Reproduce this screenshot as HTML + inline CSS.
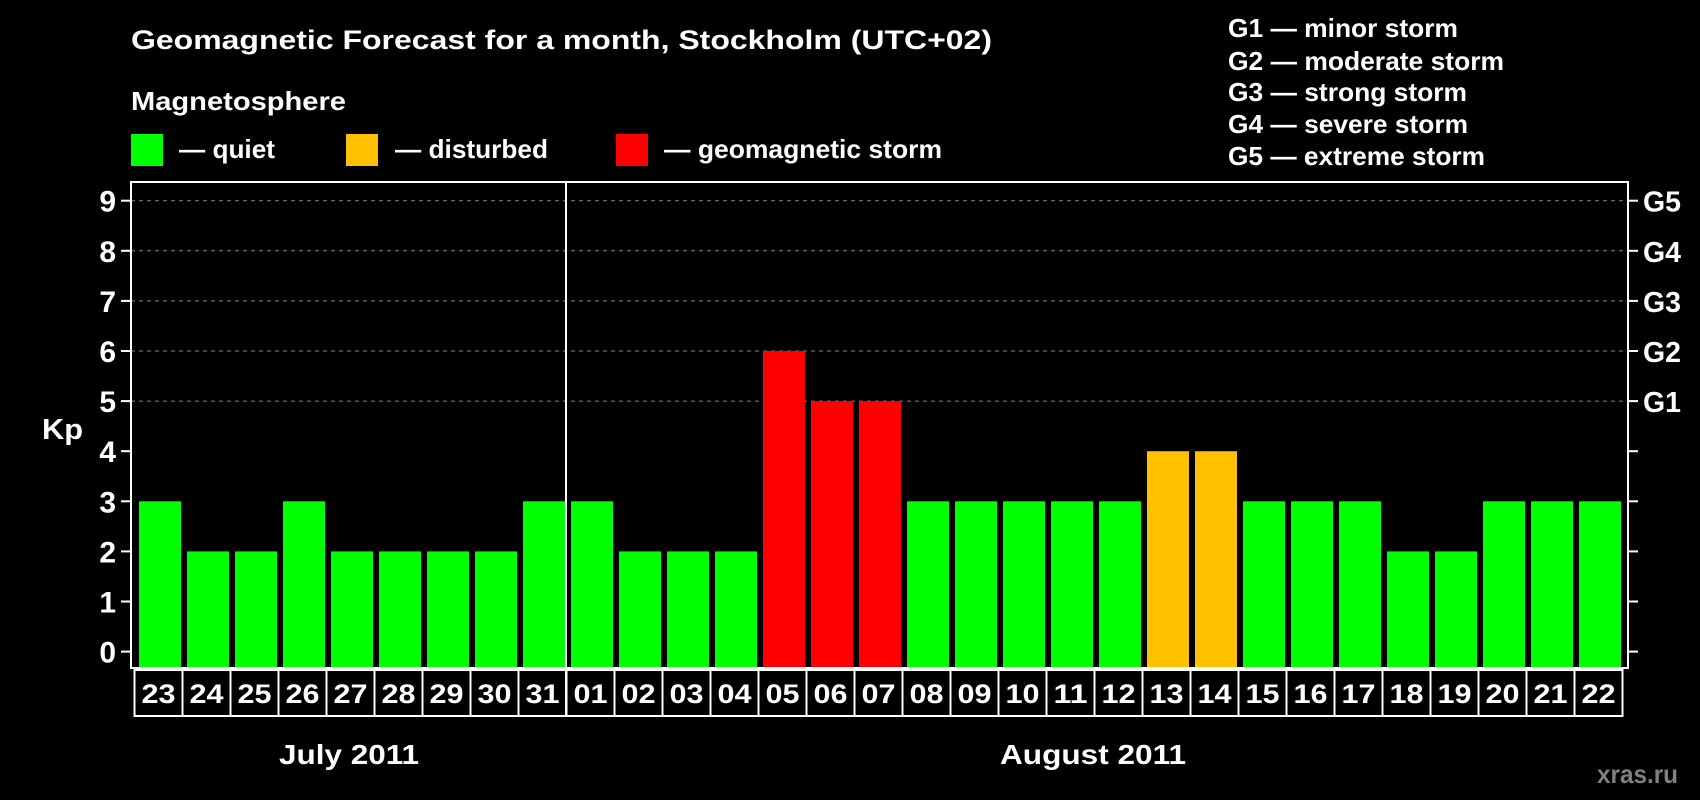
<!DOCTYPE html>
<html><head><meta charset="utf-8"><style>
html,body{margin:0;padding:0;background:#000;}
svg{display:block;}
text{font-family:"Liberation Sans",Arial,sans-serif;font-weight:bold;fill:#fff;}
</style></head><body>
<svg width="1700" height="800" viewBox="0 0 1700 800" xmlns="http://www.w3.org/2000/svg">
<rect width="1700" height="800" fill="#000"/>
<text x="131" y="49" font-size="27" textLength="861" lengthAdjust="spacingAndGlyphs">Geomagnetic Forecast for a month, Stockholm (UTC+02)</text>
<text x="131" y="110" font-size="26" textLength="215" lengthAdjust="spacingAndGlyphs">Magnetosphere</text>
<rect x="131" y="134" width="32" height="32" fill="#00ff00"/>
<text x="179" y="158" font-size="26" textLength="96" lengthAdjust="spacingAndGlyphs">— quiet</text>
<rect x="346" y="134" width="32" height="32" fill="#ffc000"/>
<text x="395" y="158" font-size="26" textLength="153" lengthAdjust="spacingAndGlyphs">— disturbed</text>
<rect x="616" y="134" width="32" height="32" fill="#ff0000"/>
<text x="664" y="158" font-size="26" textLength="278" lengthAdjust="spacingAndGlyphs">— geomagnetic storm</text>
<g font-size="26">
<text x="1228" y="37" textLength="230" lengthAdjust="spacingAndGlyphs">G1 — minor storm</text>
<text x="1228" y="70" textLength="276" lengthAdjust="spacingAndGlyphs">G2 — moderate storm</text>
<text x="1228" y="101" textLength="239" lengthAdjust="spacingAndGlyphs">G3 — strong storm</text>
<text x="1228" y="133" textLength="240" lengthAdjust="spacingAndGlyphs">G4 — severe storm</text>
<text x="1228" y="165" textLength="257" lengthAdjust="spacingAndGlyphs">G5 — extreme storm</text>
</g>
<g id="grid"></g>
<g id="bars"></g>
<rect x="131" y="182" width="1497" height="486" fill="none" stroke="#fff" stroke-width="2"/>
<line x1="566" y1="182" x2="566" y2="716" stroke="#fff" stroke-width="2"/>
<g id="ax"></g>
<text x="42" y="439" font-size="29" textLength="41" lengthAdjust="spacingAndGlyphs">Kp</text>
<text x="279" y="764" font-size="28" textLength="140" lengthAdjust="spacingAndGlyphs">July 2011</text>
<text x="1000" y="764" font-size="28" textLength="186" lengthAdjust="spacingAndGlyphs">August 2011</text>
<text x="1597" y="783" font-size="26" textLength="81" lengthAdjust="spacingAndGlyphs" style="fill:#808080">xras.ru</text>
</svg>
<script>
const NS="http://www.w3.org/2000/svg";
function el(p,t,a,txt){const e=document.createElementNS(NS,t);for(const k in a)e.setAttribute(k,a[k]);if(txt!==undefined)e.textContent=txt;document.getElementById(p).appendChild(e);}
const y0=651.6,u=50.1;
for(let k=0;k<=9;k++){const y=y0-k*u;
 if(k>=5)el("grid","line",{x1:131,x2:1628,y1:y,y2:y,stroke:"#888","stroke-dasharray":"4,4","stroke-width":1});
 el("ax","line",{x1:121,x2:131,y1:y,y2:y,stroke:"#fff","stroke-width":2});
 el("ax","line",{x1:1628,x2:1638,y1:y,y2:y,stroke:"#fff","stroke-width":2});
 el("ax","text",{x:116,y:y+11,"font-size":30,"text-anchor":"end"},k);
 if(k>=5)el("ax","text",{x:1643,y:y+11,"font-size":29,textLength:38,lengthAdjust:"spacingAndGlyphs"},"G"+(k-4));
}
const v=[3,2,2,3,2,2,2,2,3,3,2,2,2,6,5,5,3,3,3,3,3,4,4,3,3,3,2,2,3,3,3];
const d=["23","24","25","26","27","28","29","30","31","01","02","03","04","05","06","07","08","09","10","11","12","13","14","15","16","17","18","19","20","21","22"];
for(let i=0;i<31;i++){
 const x=139+i*48;
 let c="#00ff00"; if(i>=13&&i<=15)c="#ff0000"; if(i==21||i==22)c="#ffc000";
 el("bars","rect",{x:x,y:y0-v[i]*u,width:42,height:v[i]*u+15.4,fill:c});
 const cx=134.5+i*48;
 el("ax","rect",{x:cx,y:670,width:48,height:46,fill:"none",stroke:"#fff","stroke-width":2});
 el("ax","text",{x:cx+7,y:703,"font-size":27,textLength:34,lengthAdjust:"spacingAndGlyphs"},d[i]);
}
</script>
</body></html>
